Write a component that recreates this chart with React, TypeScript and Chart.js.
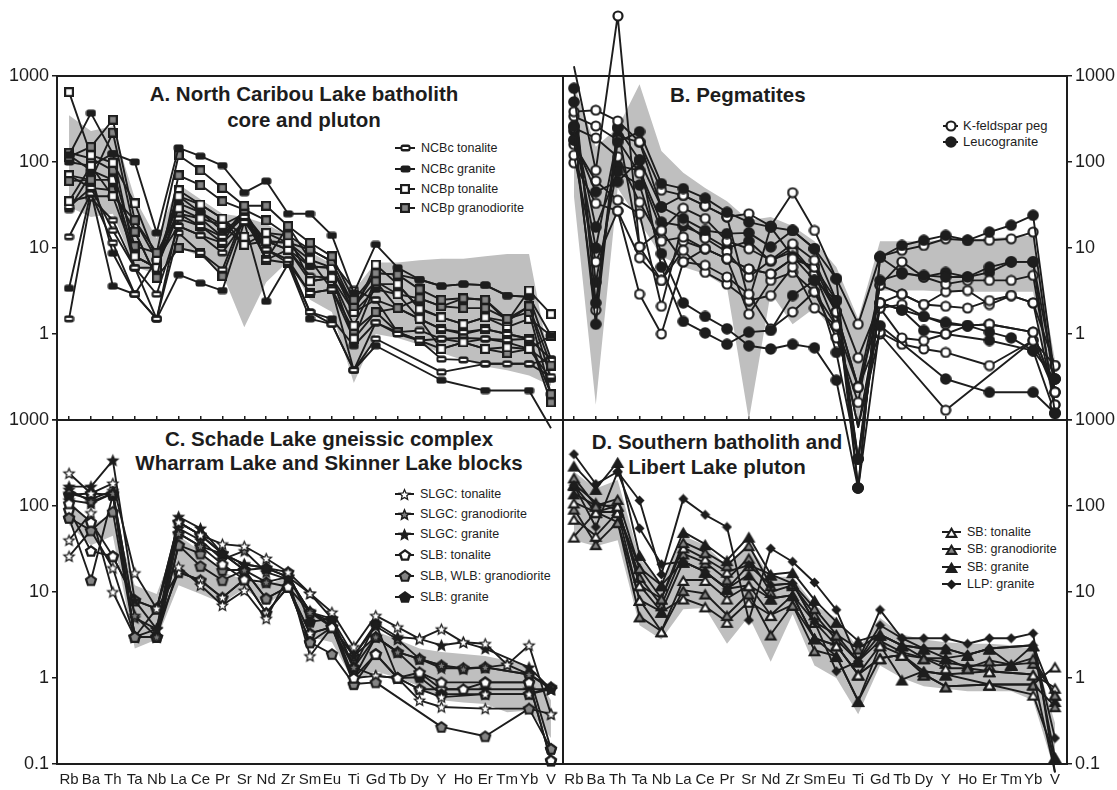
import React, { useEffect, useRef } from 'react';
import { Chart, registerables } from 'chart.js';
Chart.register(...registerables);

const W = 1117;
const H = 790;
const FONT = "'Liberation Sans', Arial, Helvetica, sans-serif";
const INK = '#1d1d1d';
const GREY = '#bfbfbf';

const ELEMENTS = ['Rb', 'Ba', 'Th', 'Ta', 'Nb', 'La', 'Ce', 'Pr', 'Sr', 'Nd', 'Zr', 'Sm', 'Eu', 'Ti', 'Gd', 'Tb', 'Dy', 'Y', 'Ho', 'Er', 'Tm', 'Yb', 'V'];
const Y_TICKS = [0.1, 1, 10, 100, 1000];

type V = number | null;

// ---------- Panel A: North Caribou Lake batholith ----------
const A_FIELD_UPPER: V[] = [350, 230, 260, 38, 13, 55, 37, 25, 23, 19, 14, 9, 6.5, 3.2, 6.8, 6.8, 7.2, 7.5, 7.5, 8, 8.5, 8.5, 0.4];
const A_FIELD_LOWER: V[] = [30, 23, 25, 6, 5, 10, 8, 5, 1.2, 4, 7, 2.5, 1.8, 0.27, 1.0, 0.9, 0.75, 0.6, 0.5, 0.42, 0.38, 0.33, 0.25];
const A_TYPES = ['barB', 'sqG', 'sqG', 'sqW', 'sqW', 'barW', 'barW', 'barB', 'barW', 'barB', 'sqG', 'sqW', 'barW', 'sqG', 'barW', 'barB'];
const A_SERIES: V[][] = [
  [120, 370, 125, 100, 15, 146, 117, 91, 44, 60, 25, 25, 14, 3.0, 11, 5.9, 4.3, 3.6, 3.8, 3.7, 2.8, 2.7, 0.96],
  [115, 150, 310, 21, 8.8, 120, 80, 50, 31, 31, 18, 11.5, 8, 2.5, 5.1, 4.9, 3.3, 2.5, 2.6, 2.5, 1.5, 2.1, 0.43],
  [60, 62, 220, 15.5, 4.5, 70, 54, 35, 28, 21, 14, 9.6, 7, 2.1, 4.1, 2.0, 2.6, 2.1, 2.0, 2.0, 1.5, 1.8, 0.2],
  [650, 120, 98, 33, 7.3, 40, 32, 22, 13.5, 15, 11.5, 7.3, 5.9, 1.8, 6.4, 3.8, 1.94, 1.56, 1.3, 1.56, 1.4, 3.2, 1.7],
  [35, 90, 40, 8, 5.9, 29, 22, 18.5, 10.9, 12, 9.6, 4.1, 4.5, 1.25, 4.1, 2.9, 1.5, 0.67, 0.8, 0.67, 0.7, 0.67, 0.96],
  [30, 50, 16, 5.9, 2.9, 18, 14, 11.5, 20, 9.6, 7.3, 3, 3.3, 0.38, 1.36, 1.0, 0.84, 0.51, 0.5, 0.45, 0.45, 0.45, 0.32],
  [13.5, 43, 11.5, 2.9, 1.5, 22, 18, 13.5, 23, 9.6, 6.7, 1.8, 1.3, 0.38, 0.88, null, null, 0.36, null, 0.45, null, 0.45, 0.5],
  [3.4, 45, 3.6, 2.9, 1.5, 4.9, 3.9, 3.2, 20, 2.4, 6.5, 1.5, 1.3, 0.38, 0.73, null, null, 0.29, null, 0.22, null, 0.22, 0.08],
  [1.5, 38, 21, 5.9, 1.5, 15, 8.8, 5.6, 25, 7.3, 9.6, 4.7, 4.5, 1.8, 2.5, 2.0, 1.5, 1.14, 1.05, 1.14, 1.0, 0.88, 0.51],
  [28, 73, 8.7, 2.9, 7.3, 33, 26, 16, 23, 12, 11.5, 6.1, 5.9, 1.8, 3.3, 2.9, 2.6, 2.1, 2.6, 2.5, 1.4, 2.1, 0.3],
  [128, 110, 80, 10.5, 8.8, 25, 18, 11.5, 28, 7.3, 18, 7.3, 3.3, 1.1, 1.8, 2.0, 1.5, 1.14, 1.0, 1.14, 1.0, 0.88, 0.16],
  [70, 62, 62, 8, 5.9, 47, 32, 22, 10.9, 15, 14, 4.1, 4.5, 0.88, 3.8, 3.8, 2.0, 1.56, 1.3, 1.56, 1.2, 1.5, 0.96],
  [120, 80, 62, 5.9, 5.9, 40, 26, 18.5, 25, 12, 9.6, 6.1, 5.9, 2.1, 5.1, 4.9, 4.3, 3.6, 3.8, 3.7, 2.8, 2.7, 0.51],
  [70, 50, 47, 15.5, 4.5, 10, 8.8, 4.7, 23, 7.3, 6.7, 3.0, 3.3, 0.88, 1.8, 1.05, 0.84, 0.67, 0.8, 0.67, 0.6, 0.67, 0.43],
  [35, 40, 40, 21, 7.3, 18, 14, 8.8, 20, 12, 11.5, 9.6, 7, 3.3, 2.5, 1.05, 1.1, 0.88, 0.9, 0.88, 0.85, 0.88, 0.2],
  [100, 90, 125, 8, 5.9, 25, 22, 13.5, 28, 9.6, 7.3, 1.8, 1.5, 0.73, 1.36, 1.05, 0.84, 0.88, 0.8, 0.88, 0.8, 0.67, 0.3],
];
const A_LEGEND_LABELS = ['NCBc tonalite', 'NCBc granite', 'NCBp tonalite', 'NCBp granodiorite'];
const A_LEGEND_TYPES = ['barW', 'barB', 'sqW', 'sqG'];

// ---------- Panel B: Pegmatites ----------
const B_FIELD_UPPER: V[] = [800, 150, 250, 800, 134, 75, 50, 35, 21, 23, 18, 12, 6, 1.5, 12, 12, 12, 12.5, 12.5, 13, 13.5, 14, 0.5];
const B_FIELD_LOWER: V[] = [40, 0.15, 50, 20, 8, 6, 5, 3.5, 0.1, 3, 1.3, 2, 1.0, 0.1, 3.2, 3.2, 3.2, 3.1, 3.1, 3.1, 3.1, 3.1, 0.1];
const B_TYPES = ['cirB', 'cirW', 'cirB', 'cirW', 'cirW', 'cirB', 'cirB', 'cirW', 'cirW', 'cirW', 'cirW', 'cirB', 'cirW', 'cirB'];
const B_SERIES: V[][] = [
  [720, 2.3, 170, 225, 56, 49, 38, 26, 20, 17.5, 16, 9.8, 4.4, 0.016, 7.8, 10.7, 12.3, 14, 12.3, 15.3, 18.4, 24, 0.3],
  [385, 400, 300, 172, 47, 41, 31, 23, 25, 18, 44, 16, 4.4, 1.3, 8, 9.4, 10.7, 12.8, 12.3, 12.3, 12.8, 15.3, 0.21],
  [260, 1.3, 250, 105, 30, 22, 16, 14.7, 15, 10.3, 16, 9.8, 2.45, 0.035, 4.2, 5, 4.8, 4.6, 4.6, 6, 6.9, 6.9, 0.12],
  [340, 262, 180, 74, 16, 29, 22, 12, 9.8, 7.2, 11.2, 7.2, 1.8, 0.24, 3.7, 6.9, 4.6, 3.8, 4.2, 4.2, 4.2, 4.8, 0.15],
  [250, 190, 115, 34, 12, 13.4, 9.8, 7.5, 5.7, 5, 7.5, 6, 2.45, 0.53, 2.3, 2.9, 2.2, 2.1, 2.0, 2.45, 2.8, 2.3, 0.43],
  [260, 17.5, 77, 54, 8.6, 2.3, 1.6, 1.15, 0.73, 0.67, 0.76, 0.69, 0.29, 0.016, 1.25, null, null, 0.3, null, 0.21, null, 0.21, 0.12],
  [180, 45, 59, 105, 6.0, 1.4, 1.03, 0.76, 1.05, 1.1, 2.8, 4.2, 0.61, 0.035, 2.3, 1.9, 1.6, 1.37, 1.25, 1.05, 0.9, 0.64, 0.3],
  [120, 6.9, 27, 2.9, 1.0, 6.9, 6.3, 4.6, 2.9, 1.15, 1.8, 3.1, 1.25, 0.083, 2.0, 0.9, 0.84, 1.0, 1.25, 1.3, null, 1.05, 0.21],
  [98, 33, 27, 7.7, 4.2, 9.4, 5.2, 3.8, 2.45, 2.8, 6, 2, 1.25, 0.083, 1.05, 0.76, 0.67, 0.61, null, 0.43, null, 0.84, 0.43],
  [180, 1.9, 250, 10.3, 16, 6.9, 9.8, 7.5, 1.7, 4.2, 5.2, 3.1, 0.9, 0.16, 3.7, 2.9, 2.2, 3.1, 3.2, 2.2, 2.8, 2.3, 0.15],
  [1300, 80, 5000, 10.3, 4.2, 12, 9.8, 7.5, 5.7, 5, 7.5, 6, 1.8, 0.24, 1.0, null, null, 0.13, null, null, null, 0.84, 0.21],
  [230, 10, 200, 170, 30, 41, 31, 23, 2.45, 17.5, 8, 4.2, 2.45, 0.016, 7.8, 5.2, 4.6, 5.2, 4.6, 5.2, 6.9, 6.9, 0.3],
  [160, 60, 36, 25, 2.1, 20, 13, 9, 4.6, 7.2, 9, 5, 1.25, 0.24, 2.0, 2.2, 1.6, 1.3, 1.25, 1.3, null, 1.05, 0.21],
  [500, 4, 90, 80, 20, 18, 14, 10, 12, 7, 10, 5, 1.8, 0.035, 2.3, 1.9, 1.1, 1.0, null, 0.84, null, 0.64, 0.12],
];
const B_LEGEND_LABELS = ['K-feldspar peg', 'Leucogranite'];
const B_LEGEND_TYPES = ['cirW', 'cirB'];

// ---------- Panel C: Schade Lake gneissic complex ----------
const C_FIELD_UPPER: V[] = [120, 60, 80, 12, 9.5, 45, 30, 17, 14, 12, 15, 5.5, 4.8, 1.5, 3.5, 2.8, 2.2, 2.0, 1.9, 1.8, 1.6, 1.4, 0.55];
const C_FIELD_LOWER: V[] = [60, 35, 45, 2.2, 2.8, 12, 9.5, 7.4, 11, 7, 11, 3, 2.6, 0.9, 1.2, 1.0, 0.8, 0.55, 0.52, 0.5, 0.4, 0.42, 0.2];
const C_TYPES = ['starW', 'starB', 'starG', 'penW', 'penG', 'starW', 'starW', 'penB', 'penW', 'penG', 'starB', 'starG'];
const C_SERIES: V[][] = [
  [240, 140, 183, 16.6, 6.4, 65, 46, 36, 34, 24.5, 17, 9.6, 5.8, 2.3, 5.3, 3.9, 2.85, 3.7, 2.6, 2.5, 1.43, 2.4, 0.38],
  [168, 168, 340, 8, 3.7, 75, 55, 28, 21, 19, 15, 9.6, 4.9, 1.8, 4.3, 3.0, 2.85, 2.4, 2.6, 2.2, null, 1.33, 0.74],
  [155, 112, 140, 5.3, 3.0, 48, 34, 28, 18, 13, 15, 5.8, 4.9, 1.33, 3, 2, 1.67, 1.4, 1.27, 1.33, null, 1.1, 0.78],
  [107, 65, 26, 8, 6.4, 48, 34, 21, 14, 13, 11.5, 5.8, 3.9, 1.0, 1.9, 1.0, 1.16, 0.89, null, 0.89, null, 0.89, 0.11],
  [73, 52, 86, 3, 3, 35, 20, 13.7, 18, 8.4, 11.5, 2.6, 1.9, 0.85, 0.89, null, null, 0.27, null, 0.21, null, 0.44, 0.15],
  [40, 83, 10, 3, 3, 19.6, 12, 7, 10.4, 4.9, 15, 1.8, 3.9, 1.33, 1.06, 1.0, 0.55, 0.46, null, 0.44, null, 0.44, 0.38],
  [26, 52, 19, 3, 3.7, 17, 13.7, 8.6, 14, 5.7, 11.5, 3.3, 3.9, 1.0, 1.06, 1.0, 0.74, 0.6, null, 0.65, null, 0.65, 0.74],
  [135, 140, 135, 3, 3, 65, 46, 28, 18, 19, 17, 4.5, 4.9, 1.33, 4.3, 1.0, 1.02, 0.65, null, 0.65, null, 0.65, 0.78],
  [90, 30, 26, 8, 6.4, 17, 13.7, 8.6, 14, 5.7, 11.5, 3.3, 3.9, 0.85, 1.9, 1.0, 0.74, 0.74, 0.74, 0.89, null, 0.89, 0.11],
  [73, 13.7, 135, 3, 3, 35, 28, 18, 18, 8.4, 11.5, 2.6, 3.9, 1.8, 3, 2, 1.67, 1.4, 1.3, 1.33, null, 1.1, 0.15],
  [117, 107, 140, 3, 6.4, 65, 46, 28, 21, 19, 15, 5.8, 4.5, 1.0, 3.0, 2.0, 1.16, 0.74, 0.74, 0.74, null, 0.74, 0.74],
  [140, 120, 150, 5, 3.7, 55, 40, 24, 30, 17, 14, 6, 4, 1.8, 4, 2.8, 1.67, 1.3, 1.3, 1.33, 1.43, 1.1, 0.74],
];
const C_LEGEND_LABELS = ['SLGC: tonalite', 'SLGC: granodiorite', 'SLGC: granite', 'SLB: tonalite', 'SLB, WLB: granodiorite', 'SLB: granite'];
const C_LEGEND_TYPES = ['starW', 'starG', 'starB', 'penW', 'penG', 'penB'];

// ---------- Panel D: Southern batholith and Libert Lake pluton ----------
const D_FIELD_UPPER: V[] = [250, 160, 200, 25, 12, 45, 35, 20, 35, 15, 15, 7, 5, 2.2, 5, 3.2, 2.8, 2.6, 2.5, 2.5, 2.4, 2.2, 0.3];
const D_FIELD_LOWER: V[] = [40, 34, 40, 4.1, 2.8, 6.3, 6.5, 2.5, 5.2, 1.55, 5.5, 1.4, 1.0, 0.38, 1.4, 1.0, 0.8, 0.75, 0.7, 0.7, 0.7, 0.55, 0.08];
const D_TYPES = ['dia', 'dia', 'triB', 'triG', 'triW', 'triB', 'triW', 'triG', 'triW', 'triB', 'triG'];
const D_SERIES: V[][] = [
  [400, 180, 250, 116, 16, 121, 79, 57, 4.7, 32, 22.5, 12.9, 6.2, 1.56, 6.2, 2.9, 2.9, 2.9, 2.5, 2.9, 2.9, 3.3, 0.08],
  [175, 57, 250, 55, 21, 22.5, 17.2, 10.9, 20.5, 12, 12.6, 4.5, 1.2, 1.56, 4.1, 2.9, 2.2, 2.2, 1.86, 2.2, null, 2.4, 0.2],
  [295, 158, 325, 27, 12, 50, 36, 23.4, 44, 16, 17, 8.1, 4.5, 2.7, 3.2, 2.4, 2.2, 1.7, 1.86, 2.2, 1.43, 2.4, 0.12],
  [215, 101, 121, 19, 8.4, 38, 29, 20.5, 35, 12, 12.6, 6.5, 3.2, 2.2, 3.2, 2.4, 1.7, 1.7, 1.3, 1.6, 1.43, 1.7, 0.64],
  [110, 85, 101, 12, 8.4, 33, 24.5, 17.2, 20.5, 16, 12.6, 4.5, 2.4, 1.1, 2.4, 1.86, 1.7, 1.3, 1.3, 1.2, null, 1.1, 0.77],
  [140, 101, 101, 12, 5.9, 22.5, 17.2, 10.9, 16, 8.4, 9.2, 2.9, 1.8, 0.54, 2.4, 0.96, 1.2, 1.1, null, 1.2, null, 1.1, 0.08],
  [71, 45, 85, 8.1, 3.5, 13.8, 13.8, 8.4, 12, 5.4, 9.2, 2.9, 2.4, 1.1, 1.7, 1.86, 1.2, 1.1, null, 0.84, null, 0.64, 0.12],
  [93, 36, 65, 5.2, 3.5, 10.5, 9.6, 5.4, 9.6, 3.2, 7.1, 2.1, 1.8, 0.54, 1.7, 1.86, 1.1, 0.8, null, 0.84, null, 0.84, 0.47],
  [44, 85, 65, 8.1, 5.9, 8.4, 6.8, 4.5, 7.7, 5.4, 7.1, 2.9, 2.4, 1.1, 1.7, 1.86, 1.1, 0.8, null, 0.84, null, 0.84, 1.36],
  [175, 85, 85, 19, 12, 22.5, 17.2, 10.9, 12, 8.4, 9.2, 4.5, 3.2, 1.56, 3.2, 2.4, 2.2, 2.2, 1.86, 2.2, null, 2.4, 0.54],
  [180, 110, 90, 15, 7, 28, 22, 14, 25, 10, 12, 5.5, 2.8, 1.56, 2.7, 2.0, 1.7, 1.5, 1.4, 1.4, 1.43, 1.5, 0.64],
];
const D_LEGEND_LABELS = ['SB: tonalite', 'SB: granodiorite', 'SB: granite', 'LLP: granite'];
const D_LEGEND_TYPES = ['triW', 'triG', 'triB', 'dia'];

type Panel = {
  key: string;
  left: number; top: number; right: number; bottom: number;
  yPos: 'left' | 'right';
  bottomRow: boolean;
  xMin: number; xMax: number;
  upper: V[]; lower: V[];
  types: string[]; series: V[][];
  legendTypes: string[]; legendLabels: string[];
  legX1: number; legX2: number; legText: number; legY: number[]; legFont: number;
  markOutside: boolean;
};

const PANELS: Panel[] = [
  { key: 'C', left: 57, top: 420, right: 563, bottom: 764, yPos: 'left', bottomRow: true, xMin: -0.55, xMax: 22.55,
    upper: C_FIELD_UPPER, lower: C_FIELD_LOWER, types: C_TYPES, series: C_SERIES,
    legendTypes: C_LEGEND_TYPES, legendLabels: C_LEGEND_LABELS, legX1: 395, legX2: 414, legText: 420, legY: [494, 514, 534, 555, 576, 597], legFont: 12.5, markOutside: false },
  { key: 'D', left: 563, top: 420, right: 1067, bottom: 764, yPos: 'right', bottomRow: true, xMin: -0.5, xMax: 22.55,
    upper: D_FIELD_UPPER, lower: D_FIELD_LOWER, types: D_TYPES, series: D_SERIES,
    legendTypes: D_LEGEND_TYPES, legendLabels: D_LEGEND_LABELS, legX1: 942, legX2: 961, legText: 967, legY: [532, 549, 567, 584], legFont: 12.5, markOutside: false },
  { key: 'A', left: 57, top: 76, right: 563, bottom: 420, yPos: 'left', bottomRow: false, xMin: -0.55, xMax: 22.55,
    upper: A_FIELD_UPPER, lower: A_FIELD_LOWER, types: A_TYPES, series: A_SERIES,
    legendTypes: A_LEGEND_TYPES, legendLabels: A_LEGEND_LABELS, legX1: 395, legX2: 415, legText: 421, legY: [148, 169, 189, 208], legFont: 12.5, markOutside: false },
  { key: 'B', left: 563, top: 76, right: 1067, bottom: 420, yPos: 'right', bottomRow: false, xMin: -0.5, xMax: 22.55,
    upper: B_FIELD_UPPER, lower: B_FIELD_LOWER, types: B_TYPES, series: B_SERIES,
    legendTypes: B_LEGEND_TYPES, legendLabels: B_LEGEND_LABELS, legX1: 943, legX2: 958, legText: 963, legY: [126, 142], legFont: 13, markOutside: true },
];

function createMarkers(): Record<string, HTMLCanvasElement> {
  const mk = (w: number, h: number, draw: (g: CanvasRenderingContext2D) => void) => {
    const c = document.createElement('canvas');
    c.width = w; c.height = h;
    const g = c.getContext('2d') as CanvasRenderingContext2D;
    draw(g);
    return c;
  };
  const poly = (g: CanvasRenderingContext2D, pts: number[][]) => {
    g.beginPath();
    pts.forEach(([x, y], i) => (i ? g.lineTo(x, y) : g.moveTo(x, y)));
    g.closePath();
  };
  const star = (cx: number, cy: number, ro: number, ri: number) => {
    const p: number[][] = [];
    for (let k = 0; k < 10; k++) {
      const r = k % 2 ? ri : ro;
      const a = -Math.PI / 2 + (k * Math.PI) / 5;
      p.push([cx + r * Math.cos(a), cy + r * Math.sin(a)]);
    }
    return p;
  };
  const ngon = (cx: number, cy: number, r: number, n: number) => {
    const p: number[][] = [];
    for (let k = 0; k < n; k++) {
      const a = -Math.PI / 2 + (k * 2 * Math.PI) / n;
      p.push([cx + r * Math.cos(a), cy + r * Math.sin(a)]);
    }
    return p;
  };
  const tri = (cx: number, cy: number, s: number) => [[cx, cy - 6.2 * s], [cx + 6.6 * s, cy + 5 * s], [cx - 6.6 * s, cy + 5 * s]];
  const two = (outer: number[][], inner: number[][] | null, fill: string) => (g: CanvasRenderingContext2D) => {
    g.fillStyle = INK; poly(g, outer); g.fill();
    if (inner) { g.fillStyle = fill; poly(g, inner); g.fill(); }
  };
  const m: Record<string, HTMLCanvasElement> = {};
  m.barW = mk(11, 8, (g) => { g.fillStyle = INK; g.beginPath(); g.roundRect(0.5, 0.5, 10, 7, 2.5); g.fill(); g.fillStyle = '#fff'; g.fillRect(2.5, 3, 6, 2); });
  m.barB = mk(11, 8, (g) => { g.fillStyle = INK; g.beginPath(); g.roundRect(0.5, 0.5, 10, 7, 2.5); g.fill(); });
  m.sqW = mk(10, 10, (g) => { g.fillStyle = INK; g.fillRect(0, 0, 10, 10); g.fillStyle = '#fff'; g.fillRect(2.2, 2.2, 5.6, 5.6); });
  m.sqG = mk(10, 10, (g) => { g.fillStyle = INK; g.fillRect(0, 0, 10, 10); g.fillStyle = '#858585'; g.fillRect(2.2, 2.2, 5.6, 5.6); });
  m.cirW = mk(12, 12, (g) => { g.fillStyle = INK; g.beginPath(); g.arc(6, 6, 5.6, 0, Math.PI * 2); g.fill(); g.fillStyle = '#fff'; g.beginPath(); g.arc(6, 6, 3.4, 0, Math.PI * 2); g.fill(); });
  m.cirB = mk(12, 12, (g) => { g.fillStyle = INK; g.beginPath(); g.arc(6, 6, 5.8, 0, Math.PI * 2); g.fill(); });
  m.starW = mk(15, 15, two(star(7.5, 8, 7, 3.2), star(7.5, 8, 3.8, 1.7), '#fff'));
  m.starG = mk(15, 15, two(star(7.5, 8, 7, 3.2), star(7.5, 8, 3.2, 1.5), '#7a7a7a'));
  m.starB = mk(15, 15, two(star(7.5, 8, 7, 3.2), null, INK));
  m.penW = mk(14, 14, two(ngon(7, 7.5, 6.6, 5), ngon(7, 7.5, 3.7, 5), '#fff'));
  m.penG = mk(14, 14, two(ngon(7, 7.5, 6.6, 5), ngon(7, 7.5, 3.9, 5), '#858585'));
  m.penB = mk(14, 14, two(ngon(7, 7.5, 6.6, 5), null, INK));
  m.triW = mk(15, 14, two(tri(7.5, 8, 1), tri(7.5, 8.6, 0.45), '#fff'));
  m.triG = mk(15, 14, two(tri(7.5, 8, 1), tri(7.5, 8.6, 0.45), '#858585'));
  m.triB = mk(15, 14, two(tri(7.5, 8, 1), null, INK));
  m.dia = mk(11, 11, two([[5.5, 0.5], [10.5, 5.5], [5.5, 10.5], [0.5, 5.5]], null, INK));
  return m;
}

const pts = (vals: V[]) => vals.map((v, i) => ({ x: i, y: v }));

function buildConfig(p: Panel, markers: Record<string, HTMLCanvasElement>): any {
  const isLeft = p.yPos === 'left';
  const xTickList = () => ELEMENTS.map((_, i) => ({ value: i }));
  const datasets: any[] = [
    { data: pts(p.upper), fill: '+1', backgroundColor: GREY, borderColor: 'rgba(0,0,0,0)', borderWidth: 0, pointRadius: 0, order: 50, spanGaps: true },
    { data: pts(p.lower), fill: false, backgroundColor: GREY, borderColor: 'rgba(0,0,0,0)', borderWidth: 0, pointRadius: 0, order: 51, spanGaps: true },
  ];
  p.series.forEach((vals, i) => {
    datasets.push({
      data: pts(vals), fill: false, borderColor: INK, borderWidth: 1.9,
      pointStyle: markers[p.types[i]], pointRadius: 5, clip: false, spanGaps: true, order: 1,
    });
  });
  const scales: any = {
    x: {
      type: 'linear', position: 'bottom', min: p.xMin, max: p.xMax, display: p.bottomRow,
      afterBuildTicks: (s: any) => { s.ticks = xTickList(); },
      afterFit: (s: any) => { s.height = p.bottomRow ? H - p.bottom : 0; },
      grid: { drawOnChartArea: false, drawTicks: false },
      border: { display: false },
      ticks: {
        autoSkip: false, maxRotation: 0, minRotation: 0, padding: 7, color: INK,
        font: { family: FONT, size: 15 },
        callback: (v: any) => ELEMENTS[Math.round(Number(v))] ?? '',
      },
    },
    y: {
      type: 'logarithmic', position: p.yPos, min: 0.1, max: 1000,
      afterBuildTicks: (s: any) => { s.ticks = Y_TICKS.map((v) => ({ value: v })); },
      afterFit: (s: any) => { s.width = isLeft ? p.left : W - p.right; },
      grid: { drawOnChartArea: false, drawTicks: true, tickLength: 5, color: INK, lineWidth: 1.5 },
      border: { display: false },
      ticks: {
        padding: 3, color: INK, font: { family: FONT, size: 18 },
        callback: (v: any) => {
          const n = Number(v);
          if (!p.bottomRow && n < 0.5) return '';
          return n < 1 ? '0.1' : String(Math.round(n));
        },
      },
    },
  };
  if (p.bottomRow) {
    scales.x2 = {
      type: 'linear', position: 'top', min: p.xMin, max: p.xMax, display: true,
      afterBuildTicks: (s: any) => { s.ticks = xTickList(); },
      afterFit: (s: any) => { s.height = 4; },
      grid: { drawOnChartArea: false, drawTicks: true, tickLength: 4, color: INK, lineWidth: 1.5 },
      border: { display: false },
      ticks: { display: false },
    };
  }
  const framePlugin = {
    id: 'frame' + p.key,
    afterDatasetsDraw(chart: any) {
      const { ctx, chartArea: a } = chart;
      ctx.save();
      ctx.strokeStyle = INK;
      ctx.lineWidth = 2;
      ctx.strokeRect(a.left, a.top, a.right - a.left, a.bottom - a.top);
      if (p.markOutside) {
        // markers of points lying beyond the plot frame (positions come from the chart's own scales)
        chart.data.datasets.forEach((ds: any, di: number) => {
          const style = ds.pointStyle;
          if (!style || typeof style !== 'object') return;
          const meta = chart.getDatasetMeta(di);
          meta.data.forEach((el: any) => {
            if (el.skip || !Number.isFinite(el.y)) return;
            if (el.y < a.top - 20 || el.y > a.bottom + 20) {
              ctx.drawImage(style, Math.round(el.x - style.width / 2), Math.round(el.y - style.height / 2));
            }
          });
        });
      }
      p.legendTypes.forEach((t, i) => {
        const y = p.legY[i];
        ctx.beginPath();
        ctx.moveTo(p.legX1, y);
        ctx.lineTo(p.legX2, y);
        ctx.lineWidth = 2;
        ctx.stroke();
        const m = markers[t];
        const cx = (p.legX1 + p.legX2) / 2;
        ctx.drawImage(m, Math.round(cx - m.width / 2), Math.round(y - m.height / 2));
      });
      ctx.restore();
    },
  };
  return {
    type: 'line',
    data: { datasets },
    options: {
      responsive: false,
      animation: false,
      events: [],
      layout: {
        padding: {
          top: p.bottomRow ? p.top - 4 : p.top,
          bottom: p.bottomRow ? 0 : H - p.bottom,
          left: isLeft ? 0 : p.left,
          right: isLeft ? W - p.right : 0,
        },
      },
      elements: { line: { tension: 0, borderJoinStyle: 'round' } },
      plugins: {
        legend: { display: false },
        tooltip: { enabled: false },
        filler: { propagate: false, drawTime: 'beforeDatasetsDraw' },
      },
      scales,
    },
    plugins: [framePlugin],
  };
}

const titleStyle = (cx: number, y: number, align: 'center' | 'left' = 'center'): React.CSSProperties => ({
  position: 'absolute',
  left: align === 'center' ? cx - 260 : cx,
  width: align === 'center' ? 520 : 400,
  top: y - 13,
  lineHeight: '26px',
  textAlign: align,
  fontFamily: FONT,
  fontWeight: 700,
  fontSize: 20.5,
  color: INK,
  whiteSpace: 'nowrap',
});

export default function App() {
  const canvases = useRef<(HTMLCanvasElement | null)[]>([]);
  useEffect(() => {
    const markers = createMarkers();
    const charts = PANELS.map((p, i) => new Chart(canvases.current[i] as HTMLCanvasElement, buildConfig(p, markers)));
    return () => charts.forEach((c) => c.destroy());
  }, []);
  return (
    <div style={{ position: 'fixed', left: 0, top: 0, width: W, height: H, background: '#fff', overflow: 'hidden' }}>
      <div style={titleStyle(304, 94)}>A. North Caribou Lake batholith</div>
      <div style={titleStyle(304, 120)}>core and pluton</div>
      <div style={titleStyle(670, 95, 'left')}>B. Pegmatites</div>
      <div style={titleStyle(329, 439)}>C. Schade Lake gneissic complex</div>
      <div style={titleStyle(329, 463)}>Wharram Lake and Skinner Lake blocks</div>
      <div style={titleStyle(717, 442)}>D. Southern batholith and</div>
      <div style={titleStyle(717, 467)}>Libert Lake pluton</div>
      {PANELS.map((p) =>
        p.legendLabels.map((lab, i) => (
          <div
            key={p.key + i}
            style={{
              position: 'absolute', left: p.legText, top: p.legY[i] - 9, lineHeight: '18px',
              fontFamily: FONT, fontSize: p.legFont, color: INK, whiteSpace: 'nowrap',
            }}
          >
            {lab}
          </div>
        ))
      )}
      {PANELS.map((p, i) => (
        <canvas
          key={p.key}
          ref={(el) => { canvases.current[i] = el; }}
          width={W}
          height={H}
          style={{ position: 'absolute', left: 0, top: 0, width: W, height: H }}
        />
      ))}
    </div>
  );
}
